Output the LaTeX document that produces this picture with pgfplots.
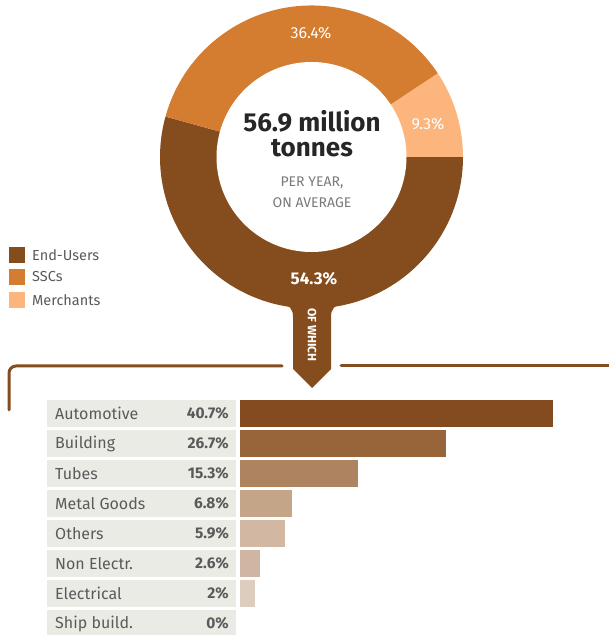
\documentclass[border=0pt]{standalone}
\usepackage{pgfplots}
\pgfplotsset{compat=1.18}
\usepackage{pgfplotstable}
\usepackage{fontspec}
\setmainfont{Fira Sans}

\definecolor{enduser}{HTML}{854C1E}
\definecolor{ssc}{HTML}{D47C30}
\definecolor{merchant}{HTML}{FBB57D}
\definecolor{boxgray}{HTML}{EBEBE6}
\definecolor{txtgray}{HTML}{5A5A5A}
\definecolor{softgray}{HTML}{7A7A7A}
\definecolor{barA}{HTML}{834B1F}
\definecolor{barB}{HTML}{98653A}
\definecolor{barC}{HTML}{AD8360}
\definecolor{barD}{HTML}{C5A588}
\definecolor{barE}{HTML}{D2B7A2}
\definecolor{barF}{HTML}{D0B6A2}
\definecolor{barG}{HTML}{DDCDBE}

% donut: share of tonnage by customer type (%)
\pgfplotstableread{
segment value
End-Users 54.3
SSCs 36.4
Merchants 9.3
}\donutdata

\pgfplotstablegetelem{0}{value}\of\donutdata \let\vA\pgfplotsretval
\pgfplotstablegetelem{1}{value}\of\donutdata \let\vB\pgfplotsretval
\pgfplotstablegetelem{2}{value}\of\donutdata \let\vC\pgfplotsretval
\pgfmathsetmacro\angA{-3.6*\vA}
\pgfmathsetmacro\angB{\angA-3.6*\vB}
\pgfmathsetmacro\angC{\angB-3.6*\vC}

\begin{document}
\begin{tikzpicture}[x=1pt,y=1pt]
\path[use as bounding box] (0,0) rectangle (609,635);

% ---- donut ----
\begin{axis}[
  x=1pt, y=1pt,
  xmin=-160, xmax=160, ymin=-160, ymax=160,
  hide axis, clip=false,
  anchor=origin, at={(311.5pt,478pt)},
]
\fill[enduser] (axis cs:0,0) -- ++(0:151.5pt) arc[start angle=0, end angle=\angA, radius=151.5pt] -- cycle;
\fill[ssc] (axis cs:0,0) -- ++(\angA:151.5pt) arc[start angle=\angA, end angle=\angB, radius=151.5pt] -- cycle;
\fill[merchant] (axis cs:0,0) -- ++(\angB:151.5pt) arc[start angle=\angB, end angle=\angC, radius=151.5pt] -- cycle;
\fill[white] (axis cs:0,0) circle[radius=95pt];
\end{axis}

% arrow "of which"
\fill[enduser] (279,332) .. controls (290,330) and (293,326) .. (293,318)
  -- (293,266) -- (312,247) -- (331,266) -- (331,318)
  .. controls (331,326) and (334,330) .. (345,332) -- (345,345) -- (279,345) -- cycle;
\node[white, rotate=-90, font=\fontsize{12}{14}\selectfont\bfseries] at (312,300) {OF WHICH};

% donut labels
\node[white, font=\fontsize{16}{18}\selectfont] at (311,602) {36.4\%};
\node[white, font=\fontsize{16}{18}\selectfont] at (428,511) {9.3\%};
\node[white, font=\fontsize{17}{19}\selectfont\bfseries] at (314,356) {54.3\%};
\node[black!85, font=\fontsize{26}{28}\selectfont\bfseries] at (312,514) {56.9 million};
\node[black!85, font=\fontsize{26}{28}\selectfont\bfseries] at (312,487) {tonnes};
\node[softgray, font=\fontsize{14}{16}\selectfont] at (312,452) {PER YEAR,};
\node[softgray, font=\fontsize{14}{16}\selectfont] at (312,432) {ON AVERAGE};

% legend
\foreach \yy/\cc/\tt in {372/enduser/End-Users, 350/ssc/SSCs, 327/merchant/Merchants}{
  \fill[\cc] (9,\yy) rectangle (25,\yy+16);
  \node[anchor=west, txtgray, font=\fontsize{14.5}{16}\selectfont, inner sep=0pt] at (32,\yy+8) {\tt};
}

% bracket
\draw[enduser, line width=3pt, line cap=round, rounded corners=7pt] (9,225) -- (9,269) -- (282,269);
\draw[enduser, line width=3pt, line cap=round] (341,269) -- (615,269);

% label boxes
\foreach \i/\name/\pct in {0/Automotive/40.7\%, 1/Building/26.7\%, 2/Tubes/15.3\%, 3/Metal Goods/6.8\%,
  4/Others/5.9\%, 5/Non Electr./2.6\%, 6/Electrical/2\%, 7/Ship build./0\%}{
  \fill[boxgray] (47,235-30*\i-27) rectangle (236,235-30*\i);
  \node[anchor=west, txtgray, font=\fontsize{16}{18}\selectfont, inner sep=0pt] at (55,235-30*\i-13.5) {\name};
  \node[anchor=east, txtgray, font=\fontsize{15.5}{18}\selectfont\bfseries, inner sep=0pt] at (229,235-30*\i-13.5) {\pct};
}

% ---- bars: end-user split (%) ----
\begin{axis}[
  x=7.7pt, y=30pt, y dir=reverse,
  xmin=0, xmax=46, ymin=-0.5, ymax=7.5,
  hide axis, clip=false,
  anchor=north west, at={(240pt,236.5pt)},
  every axis plot/.append style={xbar, bar width=27pt, bar shift=0pt, draw=none},
]
\addplot[fill=barA] coordinates {(40.7,0)};
\addplot[fill=barB] coordinates {(26.7,1)};
\addplot[fill=barC] coordinates {(15.3,2)};
\addplot[fill=barD] coordinates {(6.8,3)};
\addplot[fill=barE] coordinates {(5.9,4)};
\addplot[fill=barF] coordinates {(2.6,5)};
\addplot[fill=barG] coordinates {(2,6)};
\end{axis}
\end{tikzpicture}
\end{document}
